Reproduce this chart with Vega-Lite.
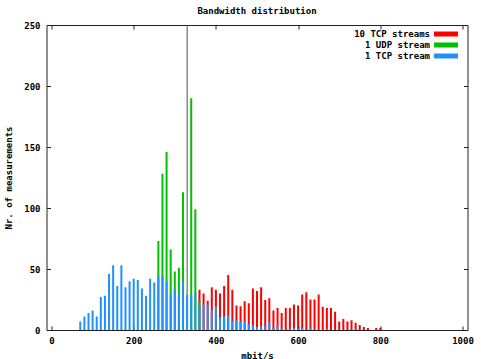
{
  "$schema": "https://vega.github.io/schema/vega-lite/v6.json",
  "width": 421,
  "height": 305,
  "autosize": "none",
  "padding": {"left": 46.5, "top": 25, "right": 13.5, "bottom": 29},
  "background": "white",
  "title": {"text": "Bandwidth distribution", "font": "DejaVu Sans Mono", "fontSize": 9, "fontWeight": "bold", "color": "#000", "offset": 5},
  "config": {
    "view": {"stroke": "#202020", "strokeWidth": 1},
    "axis": {"labelFont": "DejaVu Sans Mono", "labelFontWeight": "bold", "labelFontSize": 9, "labelColor": "#000", "titleFont": "DejaVu Sans Mono", "titleFontWeight": "bold", "titleFontSize": 9, "titleColor": "#000", "grid": false, "domain": false, "tickColor": "#202020", "tickSize": -4, "tickWidth": 1, "labelFlush": false, "labelOverlap": false, "format": "d"},
    "legend": {"labelFont": "DejaVu Sans Mono", "labelFontWeight": "bold", "labelFontSize": 9, "labelColor": "#000", "padding": 0}
  },
  "datasets": {
    "line": [{"x": 330, "v": 250}],
    "bw": [
      {"x": 70, "s": "1 TCP stream", "v": 7}, {"x": 80, "s": "1 TCP stream", "v": 11}, {"x": 90, "s": "1 TCP stream", "v": 14}, {"x": 100, "s": "1 TCP stream", "v": 16}, {"x": 110, "s": "1 TCP stream", "v": 11}, {"x": 120, "s": "1 TCP stream", "v": 27}, {"x": 130, "s": "1 TCP stream", "v": 28}, {"x": 140, "s": "1 TCP stream", "v": 46}, {"x": 150, "s": "1 TCP stream", "v": 53}, {"x": 160, "s": "1 TCP stream", "v": 36}, {"x": 170, "s": "1 TCP stream", "v": 53}, {"x": 180, "s": "1 TCP stream", "v": 35}, {"x": 190, "s": "1 TCP stream", "v": 40}, {"x": 200, "s": "1 TCP stream", "v": 42}, {"x": 210, "s": "1 TCP stream", "v": 41}, {"x": 220, "s": "1 TCP stream", "v": 34}, {"x": 230, "s": "1 TCP stream", "v": 28}, {"x": 240, "s": "1 TCP stream", "v": 42}, {"x": 250, "s": "1 TCP stream", "v": 39}, {"x": 260, "s": "1 TCP stream", "v": 44}, {"x": 270, "s": "1 TCP stream", "v": 44}, {"x": 280, "s": "1 TCP stream", "v": 40}, {"x": 290, "s": "1 TCP stream", "v": 29}, {"x": 300, "s": "1 TCP stream", "v": 34}, {"x": 310, "s": "1 TCP stream", "v": 30}, {"x": 320, "s": "1 TCP stream", "v": 40}, {"x": 330, "s": "1 TCP stream", "v": 29}, {"x": 340, "s": "1 TCP stream", "v": 28}, {"x": 350, "s": "1 TCP stream", "v": 31}, {"x": 360, "s": "1 TCP stream", "v": 20}, {"x": 370, "s": "1 TCP stream", "v": 21}, {"x": 380, "s": "1 TCP stream", "v": 21}, {"x": 390, "s": "1 TCP stream", "v": 16}, {"x": 400, "s": "1 TCP stream", "v": 19}, {"x": 410, "s": "1 TCP stream", "v": 10}, {"x": 420, "s": "1 TCP stream", "v": 11}, {"x": 430, "s": "1 TCP stream", "v": 12}, {"x": 440, "s": "1 TCP stream", "v": 7}, {"x": 450, "s": "1 TCP stream", "v": 8}, {"x": 460, "s": "1 TCP stream", "v": 7}, {"x": 470, "s": "1 TCP stream", "v": 7}, {"x": 480, "s": "1 TCP stream", "v": 5}, {"x": 490, "s": "1 TCP stream", "v": 4}, {"x": 500, "s": "1 TCP stream", "v": 2.5}, {"x": 510, "s": "1 TCP stream", "v": 3}, {"x": 520, "s": "1 TCP stream", "v": 3}, {"x": 530, "s": "1 TCP stream", "v": 6.5}, {"x": 540, "s": "1 TCP stream", "v": 2}, {"x": 550, "s": "1 TCP stream", "v": 4}, {"x": 560, "s": "1 TCP stream", "v": 1}, {"x": 580, "s": "1 TCP stream", "v": 1}, {"x": 590, "s": "1 TCP stream", "v": 1.5}, {"x": 600, "s": "1 TCP stream", "v": 1.5}, {"x": 610, "s": "1 TCP stream", "v": 1.5}, {"x": 630, "s": "1 TCP stream", "v": 2}, {"x": 670, "s": "1 TCP stream", "v": 1},
      {"x": 260, "s": "1 UDP stream", "v": 73}, {"x": 270, "s": "1 UDP stream", "v": 128}, {"x": 280, "s": "1 UDP stream", "v": 146}, {"x": 290, "s": "1 UDP stream", "v": 66}, {"x": 300, "s": "1 UDP stream", "v": 48}, {"x": 310, "s": "1 UDP stream", "v": 51}, {"x": 320, "s": "1 UDP stream", "v": 113}, {"x": 340, "s": "1 UDP stream", "v": 190}, {"x": 350, "s": "1 UDP stream", "v": 99}, {"x": 360, "s": "1 UDP stream", "v": 24},
      {"x": 360, "s": "10 TCP streams", "v": 33}, {"x": 370, "s": "10 TCP streams", "v": 30}, {"x": 380, "s": "10 TCP streams", "v": 24}, {"x": 390, "s": "10 TCP streams", "v": 35}, {"x": 400, "s": "10 TCP streams", "v": 33}, {"x": 410, "s": "10 TCP streams", "v": 30}, {"x": 420, "s": "10 TCP streams", "v": 36}, {"x": 430, "s": "10 TCP streams", "v": 45}, {"x": 440, "s": "10 TCP streams", "v": 33}, {"x": 450, "s": "10 TCP streams", "v": 20}, {"x": 460, "s": "10 TCP streams", "v": 19.5}, {"x": 470, "s": "10 TCP streams", "v": 23.5}, {"x": 480, "s": "10 TCP streams", "v": 22}, {"x": 490, "s": "10 TCP streams", "v": 34}, {"x": 500, "s": "10 TCP streams", "v": 32}, {"x": 510, "s": "10 TCP streams", "v": 35}, {"x": 520, "s": "10 TCP streams", "v": 24.5}, {"x": 530, "s": "10 TCP streams", "v": 26}, {"x": 540, "s": "10 TCP streams", "v": 16}, {"x": 550, "s": "10 TCP streams", "v": 18}, {"x": 560, "s": "10 TCP streams", "v": 14}, {"x": 570, "s": "10 TCP streams", "v": 18}, {"x": 580, "s": "10 TCP streams", "v": 18}, {"x": 590, "s": "10 TCP streams", "v": 21}, {"x": 600, "s": "10 TCP streams", "v": 20}, {"x": 610, "s": "10 TCP streams", "v": 29}, {"x": 620, "s": "10 TCP streams", "v": 31}, {"x": 630, "s": "10 TCP streams", "v": 25}, {"x": 640, "s": "10 TCP streams", "v": 25}, {"x": 650, "s": "10 TCP streams", "v": 29}, {"x": 660, "s": "10 TCP streams", "v": 19}, {"x": 670, "s": "10 TCP streams", "v": 18}, {"x": 680, "s": "10 TCP streams", "v": 18}, {"x": 690, "s": "10 TCP streams", "v": 15}, {"x": 700, "s": "10 TCP streams", "v": 7}, {"x": 710, "s": "10 TCP streams", "v": 9}, {"x": 720, "s": "10 TCP streams", "v": 7}, {"x": 730, "s": "10 TCP streams", "v": 8}, {"x": 740, "s": "10 TCP streams", "v": 6}, {"x": 750, "s": "10 TCP streams", "v": 4}, {"x": 760, "s": "10 TCP streams", "v": 2.5}, {"x": 770, "s": "10 TCP streams", "v": 1.6}, {"x": 790, "s": "10 TCP streams", "v": 1.6}, {"x": 800, "s": "10 TCP streams", "v": 1.6}
    ]
  },
  "data": {"name": "bw"},
  "resolve": {"axis": {"x": "independent", "y": "independent"}},
  "layer": [
    {
      "transform": [{"filter": "datum.s === '10 TCP streams'"}],
      "mark": {"type": "bar", "size": 2, "clip": true},
      "encoding": {
        "x": {"field": "x", "type": "quantitative", "scale": {"domain": [0, 1000], "nice": false}, "axis": {"orient": "bottom", "values": [0, 200, 400, 600, 800, 1000], "title": "mbit/s", "labelPadding": 10, "titlePadding": 6}},
        "y": {"field": "v", "type": "quantitative", "scale": {"domain": [0, 250], "nice": false}, "axis": {"orient": "left", "values": [0, 50, 100, 150, 200, 250], "title": "Nr. of measurements", "labelPadding": 10.5, "titlePadding": 10}},
        "color": {"field": "s", "type": "nominal", "scale": {"domain": ["10 TCP streams", "1 UDP stream", "1 TCP stream"], "range": ["#ff0000", "#00c000", "#2090ff"]}, "legend": {"title": null, "orient": "none", "legendX": 386.5, "legendY": 3, "symbolType": "M-1,-0.5H3.8V0.5H-1Z", "symbolSize": 100, "labelAlign": "right", "labelOffset": -15, "rowPadding": 0}}
      }
    },
    {
      "data": {"name": "line"},
      "mark": {"type": "rule", "color": "#505050", "strokeWidth": 1, "clip": true},
      "encoding": {
        "x": {"field": "x", "type": "quantitative", "axis": null},
        "y": {"field": "v", "type": "quantitative", "axis": null},
        "y2": {"datum": 0}
      }
    },
    {
      "transform": [{"filter": "datum.s === '1 UDP stream'"}],
      "mark": {"type": "bar", "size": 2, "clip": true},
      "encoding": {
        "x": {"field": "x", "type": "quantitative", "axis": {"orient": "top", "values": [0, 200, 400, 600, 800, 1000], "labels": false, "title": null}},
        "y": {"field": "v", "type": "quantitative", "axis": {"orient": "right", "values": [0, 50, 100, 150, 200, 250], "labels": false, "title": null}},
        "color": {"field": "s", "type": "nominal"}
      }
    },
    {
      "transform": [{"filter": "datum.s === '1 TCP stream'"}],
      "mark": {"type": "bar", "size": 2, "clip": true},
      "encoding": {
        "x": {"field": "x", "type": "quantitative", "axis": null},
        "y": {"field": "v", "type": "quantitative", "axis": null},
        "color": {"field": "s", "type": "nominal"}
      }
    }
  ]
}
